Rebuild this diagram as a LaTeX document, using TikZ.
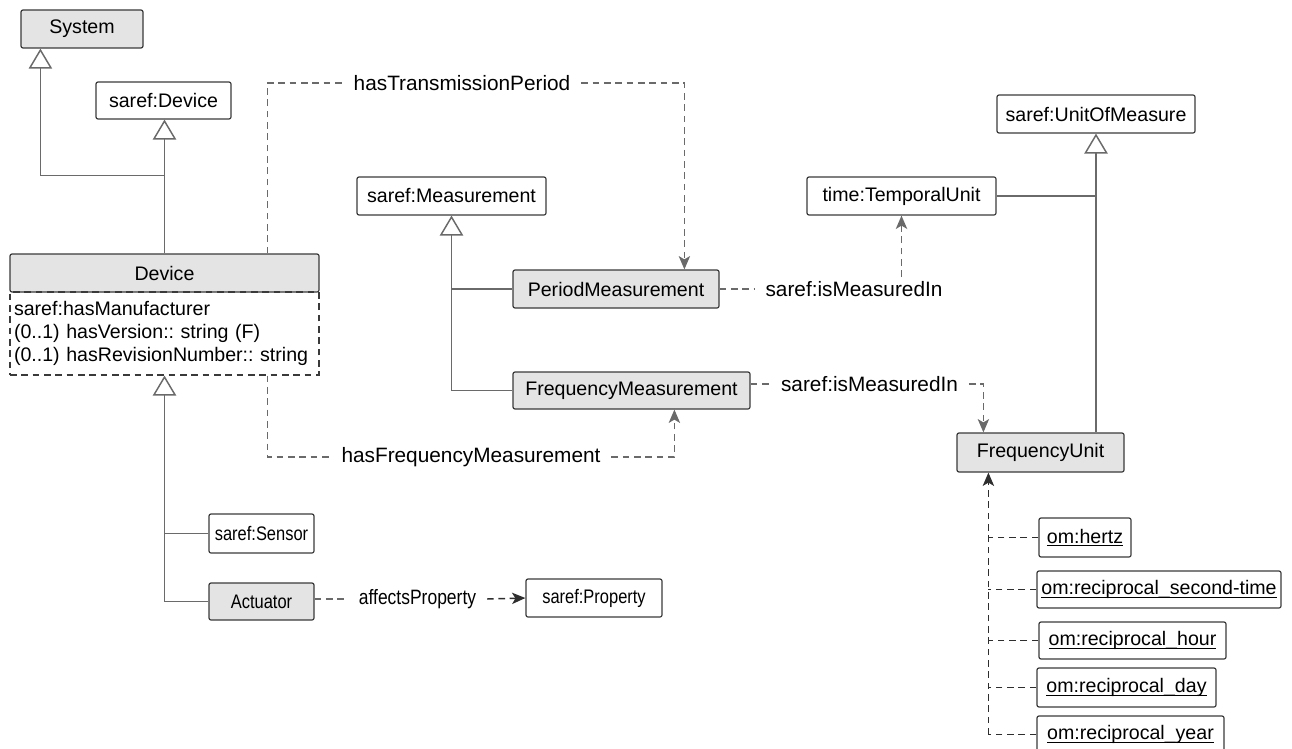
\documentclass[tikz,border=0pt]{standalone}
\usepackage{fontspec}
\setmainfont{Liberation Sans}
\newfontfamily\narrowfam[FakeStretch=0.84]{Liberation Sans}
\usetikzlibrary{arrows.meta,calc}
\definecolor{linegray}{HTML}{6A6A6A}
\definecolor{boxline}{HTML}{3A3A3A}
\definecolor{classfill}{HTML}{E4E4E4}
\definecolor{busline}{HTML}{2E2E2E}
\newcommand\nodefont{\fontsize{14.7}{17.3}\selectfont}
\newcommand\narrownodefont{\narrowfam\fontsize{14.7}{17.3}\selectfont}
\newcommand\lblfont{\fontsize{15.6}{18}\selectfont}
\newcommand\narrowlblfont{\narrowfam\fontsize{15.6}{18}\selectfont}
% underlined individual names, rule close to the baseline
\newcommand\instname[1]{\setbox0\hbox{#1}\rlap{\rule[-2.3pt]{\wd0}{0.75pt}}\box0}
\tikzset{
  cls/.style={draw=boxline, line width=0.9pt, rounded corners=1.5pt, inner sep=0pt, font=\nodefont},
  graycls/.style={cls, fill=classfill},
  sz/.style 2 args={minimum width=#1*0.75pt, minimum height=#2*0.75pt},
  lbl/.style={font=\lblfont, inner xsep=8pt, inner ysep=3pt},
  plain/.style={draw=linegray, line width=1.1pt},
  gen/.style={plain, -{Triangle[length=15pt,width=17.5pt,fill=white]}},
  rel/.style={draw=linegray, line width=1.1pt, dash pattern=on 5pt off 3.5pt},
  tip/.style={-{Stealth[length=10pt,width=8.5pt,inset=2.5pt]}},
  relarrow/.style={rel, tip},
  bus/.style={draw=busline, line width=1.1pt, dash pattern=on 5pt off 3.5pt},
}
\begin{document}
\frenchspacing
\begin{tikzpicture}[x=0.75pt, y=-0.75pt]
\useasboundingbox (0,0) rectangle (1292,749);
\clip (0,0) rectangle (1292,749);

% ---- classes ----
\node[graycls, sz={122}{38}] (System) at (82,29) {System};
\node[cls, sz={135}{37}] (sDevice) at (163.5,100.5) {saref:Device};
\node[graycls, sz={309}{38}] (Device) at (164.5,273) {Device};
\node[draw=boxline, line width=0.9pt, dash pattern=on 5pt off 3.5pt, sz={309}{83},
      inner xsep=3pt, text width=225.75pt, align=left, font=\nodefont] (DeviceAttr) at (164.5,333.5)
  {saref:hasManufacturer\\(0..1) hasVersion:: string (F)\\(0..1) hasRevisionNumber:: string};

\node[cls, sz={189}{38}] (sMeas) at (451.5,196) {saref:Measurement};
\node[graycls, sz={206}{38}] (PeriodM) at (616,289) {PeriodMeasurement};
\node[graycls, sz={237}{37}] (FreqM) at (631.5,390.5) {FrequencyMeasurement};

\node[cls, sz={189}{38}] (TempUnit) at (901.5,196) {time:TemporalUnit};
\node[cls, sz={198}{38}] (UoM) at (1096,114) {saref:UnitOfMeasure};
\node[graycls, sz={167}{39}] (FreqUnit) at (1040.5,452.5) {FrequencyUnit};

\node[cls, sz={92}{39}] (hertz) at (1085,537.5) {\instname{om:hertz}};
\node[cls, sz={244}{37}] (rsec) at (1159,589.5) {\instname{om:reciprocal\_second-time}};
\node[cls, sz={187}{37}] (rhour) at (1132.5,640.5) {\instname{om:reciprocal\_hour}};
\node[cls, sz={179}{39}] (rday) at (1126.5,687.5) {\instname{om:reciprocal\_day}};
\node[cls, sz={187}{37}] (ryear) at (1130.5,734.5) {\instname{om:reciprocal\_year}};

\node[cls, sz={105}{39}, font=\narrownodefont] (Sensor) at (261.5,533.5) {saref:Sensor};
\node[graycls, sz={105}{37}, font=\narrownodefont] (Actuator) at (261.5,601.5) {Actuator};
\node[cls, sz={136}{38}, font=\narrownodefont] (Property) at (594,598) {saref:Property};

% ---- relation labels ----
\node[lbl] (lTP) at (462,83) {hasTransmissionPeriod};
\node[lbl] (lFM) at (471,457) {hasFrequencyMeasurement};
\node[lbl] (lPM) at (854,289) {saref:isMeasuredIn};
\node[lbl] (lFU) at (869.5,384) {saref:isMeasuredIn};
\node[lbl, font=\narrowlblfont] (lAP) at (417.5,599) {affectsProperty};

% ---- generalisations ----
\coordinate (sysFoot) at ($(System.south west)+(20,0)$);
\coordinate (jDev) at ($(Device.north)+(0,-78)$);
\draw[gen] (Device.north) -- (Device.north |- sDevice.south);
\draw[gen] (jDev) -| (sysFoot);

\draw[gen] (FreqM.west) -| (sMeas.south);
\draw[plain] (PeriodM.west) -- (PeriodM.west -| sMeas.south);

\draw[gen] (FreqUnit.north -| UoM.south) -- (UoM.south);
\draw[plain] (TempUnit.east) -- (TempUnit.east -| UoM.south);

\draw[gen] (Actuator.west) -| (DeviceAttr.south);
\draw[plain] (Sensor.west) -- (Sensor.west -| DeviceAttr.south);

% ---- object properties ----
\coordinate (tpStart) at ($(Device.north west)+(258,0)$);
\coordinate (tpEnd) at ($(PeriodM.north west)+(172,0)$);
\draw[rel] (tpStart) |- (lTP.west);
\draw[relarrow] (lTP.east) -| (tpEnd);

\coordinate (fmStart) at ($(DeviceAttr.south west)+(258,0)$);
\coordinate (fmEnd) at ($(FreqM.south west)+(162,0)$);
\draw[rel] (fmStart) |- (lFM.west);
\draw[relarrow] (lFM.east) -| (fmEnd);

\draw[rel] (PeriodM.east) -- (lPM.west);
\draw[relarrow] (lPM.north -| TempUnit.south) -- (TempUnit.south);

\coordinate (fuEnd) at ($(FreqUnit.north west)+(27,0)$);
\draw[rel] (FreqM.east |- lFU.west) -- (lFU.west);
\draw[relarrow] (lFU.east) -| (fuEnd);

\draw[rel] (Actuator.east |- lAP.west) -- (lAP.west);
\draw[relarrow, draw=busline] (lAP.east) -- (Property.west);

% ---- individuals of FrequencyUnit ----
\coordinate (busTop) at ($(FreqUnit.south west)+(32,0)$);
\draw[bus, tip] (ryear.west -| busTop) -- (busTop);
\foreach \n in {hertz,rsec,rhour,rday,ryear}
  \draw[bus] (\n.west) -- (\n.west -| busTop);
\end{tikzpicture}
\end{document}
